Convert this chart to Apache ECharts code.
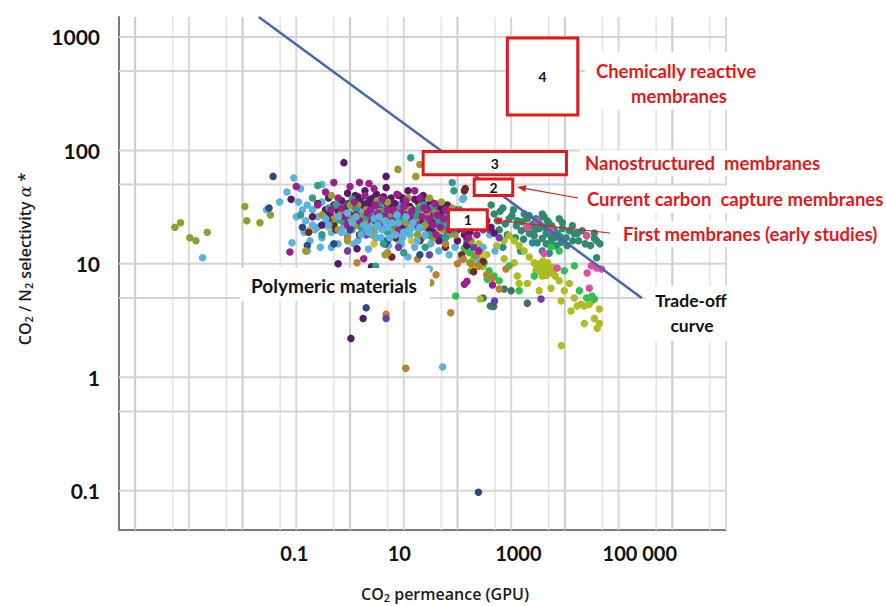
<!DOCTYPE html>
<html><head><meta charset="utf-8">
<script src="https://cdn.jsdelivr.net/npm/echarts@6/dist/echarts.min.js"></script>
<style>html,body{margin:0;padding:0;background:#fff;overflow:hidden}#c{width:886px;height:606px}</style>
</head><body><div id="c"></div>
<script>
// ---------- axes / ticks ----------
const xMin = 5e-5, xMax = 1e7, yMin = 0.045, yMax = 1500;
const xTicks = [0.1, 10, 1000, 100000];
const xTickLabels = ['0.1', '10', '1000', '100 000'];
const yTicks = [1000, 100, 10, 1, 0.1];
const yTickLabels = ['1000', '100', '10', '1', '0.1'];
const xGrid = [1e-4,5e-4,1e-3,5e-3,0.01,0.05,0.1,0.5,1,5,10,50,100,500,1000,5000,1e4,5e4,1e5,5e5,1e6,5e6,1e7];
const yGrid = [0.1,0.5,1,5,10,50,100,500,1000];

// ---------- trade-off curve ----------
const tradeOff = [[0.02, 1500], [270000, 5]];

// ---------- target boxes: [xLow, xHigh, yLow, yHigh, label] ----------
const boxes = [
  [68, 360, 20, 30, '1'],
  [205, 1070, 40, 56, '2'],
  [23, 10700, 61, 98, '3'],
  [850, 17400, 205, 980, '4']
];

// ---------- data points by colour group ----------
const oliveLeft = [[0.00055,21],[0.0007,23],[0.00104,17],[0.00135,16],[0.0022,19],[0.011,32],[0.012,24],[0.021,23],[0.033,27]];

const rightTeal = [[424,33],[482,27.5],[620,29],[780,22.5],[918,25],[1030,26.6],[1250,21.7],[1300,24],[1540,19.6],[1750,27.5],[1900,20.5],[2170,26.6],[2380,21.7],[2690,17.7],[2900,25],[3050,15.3],[3330,20.5],[3800,27.5],[3800,16.8],[4500,18.5],[4500,15],[4700,24],[5500,15.3],[5700,21.7],[5700,16.8],[6900,14.4],[7200,18.5],[7860,25],[9000,23],[9000,20.5],[12100,19.6],[13800,21.7],[15000,18.5],[17000,18.5],[21000,19.6],[25500,17.7],[35400,16.8],[39000,16],[35400,18.7],[39000,11.3],[560,24],[700,31],[1100,30],[1600,23.5],[2000,25],[2600,22.5],[3200,24.5],[4100,26],[5000,23],[6300,20],[8000,17.5],[10500,17],
 [600,20],[850,18],[1200,17],[1700,16.5],[2200,18.5],[2800,20],[3500,22],[4200,21],[5200,18],[6500,17],[8500,15.5],[11000,14.5],[14000,16],[18000,16],[24000,15],[30000,14.5],[45000,15]];
const tealBlue = [[3800,13],[5100,12.4],[2500,15.3],[1500,13],[700,14]];
const darkTeal = [[740,6],[1000,5.8],[2000,4.5],[410,4.25],[470,4.2],[300,5]];
const pink = [[3050,24],[25500,17.7],[31000,9.6],[39000,9.2],[48000,9],[28500,6.1],[4100,12.3],[7200,9.2],[26000,8.3],[2000,21],[5500,20]];
const yellowGreen = [[540,14.4],[740,16],[918,17.7],[1140,16],[1410,14.4],[1750,13],[2170,11.5],[2690,10.2],[2900,8.7],[3330,10],[3800,7.8],[4130,9.6],[4700,8.3],[5120,9.1],[5700,8.7],[6600,7.8],[740,11.1],[1140,10.2],[1300,7.8],[1410,6.7],[2000,6.7],[3330,5.8],[5500,6.1],[7860,7.1],[9750,5.8],[12100,6.7],[15000,5],[17000,4.25],[20000,4.4],[23000,4.25],[28500,4.4],[32000,4.7],[35400,3.3],[43800,4],[43800,2.97],[40000,2.7],[23000,2.97],[13000,3.84],[8500,4.7],[8600,1.9],[265,4.9],[150,13],[200,11],[250,15],[300,9.5],[350,12],[4400,9.8],[4900,8.9],[3600,9.2],[6100,8.2],
 [3000,9.5],[3500,8.5],[4000,9],[4500,7.9],[5300,8.4],[6000,9.3],[4800,10.2],[3900,10.6]];
const green = [[135,13.7],[170,12.5],[210,11.8],[253,11.1],[170,10.2],[235,9.6],[315,10.2],[389,8.7],[180,8.7],[482,7.8],[360,7.3],[597,7.1],[918,9.6],[1410,5.8],[2690,7.8],[32000,5.2],[35400,4.9],[25500,5],[18600,5.8],[7860,13],[5500,14],[93,5.2],[9750,8.7],[15000,9.6]];

const olive = [[0.3,27],[0.6,20],[1,33],[1.6,26],[2.5,20],[3.5,29],[5,35],[6.5,22],[8,30],[10,25],[12,38],[15,28],[20,32],[25,22],[30,38],[40,28],[50,35],[65,26],[80,31],[120,27],[0.15,13],[0.45,40],[4.5,12],[7.8,68],[20,75],[16.8,59],[1.3,22],[3,17],[9,19],[18,18],[35,17],[2,30],[0.9,16],
 [0.7,28],[1.1,25],[1.9,23],[2.8,27],[4,24],[5.5,26],[7,20],[9.5,27],[11,23],[13,30],[17,24],[22,21],[28,26],[33,31],[45,23],[55,20],[70,18],[0.5,25],[1.4,33],[3.2,36],
 [60,22],[90,18],[100,25],[140,21],[180,16]];
const yellow = [[0.4,21],[1.2,29],[3.8,25],[6,31],[11,21],[22,27],[45,19],[90,22],[14,16],[0.18,20],[2.8,15],[200,9],[300,12]];
const teal = [[0.2,38],[0.4,31],[0.7,24],[1.1,37],[1.6,21],[2.5,27],[3.5,34],[5,19],[7,26],[9,31],[12,20],[17,27],[23,33],[30,18],[45,23],[60,17],[85,20],[0.25,49],[13.5,86],[36,32],[110,30],[160,22],[80,52],[86,44],[0.12,27],[0.3,18],[4.2,15],[25,14],[3,9.5],[10,12.5],
 [0.55,33],[1.3,30],[2,26],[4.5,30],[6,22],[8.5,25],[14,24],[19,30],[27,25],[40,26],[55,22],[70,27]];
const brown = [[0.17,19],[0.5,22],[1.5,18],[3,24],[4.5,15],[7,17],[10,22],[20,16],[35,19],[60,14],[150,17],[6,11.5],[120,12],[135,44],[140,46],[2.2,33],[15,29],[300,10.5],[200,8.5]];
const orange = [[10.9,1.2],[4.7,3.6],[75,3.7],[32,6.8],[1.35,10.2],[40,8],[100,10],[180,10],[250,9.5],[350,8],[220,12],[130,11],[5,12.5],[18,11],[0.9,17],[60,15],[450,7.5],[600,6],[800,9]];
const violet = [[4.7,3.3],[2,18],[8,14],[30,12],[50,17],[150,15],[400,20],[250,26],[0.9,13],[490,4.7],[3600,4.9],[200,14],[300,20],[600,17],[1,21],[12,26]];
const navy = [[0.037,59],[0.031,31],[0.13,21],[0.16,14.5],[2,4.1],[246,0.097],[1,20],[5,16],[20,12],[60,30],[0.5,15],[3,26]];
const lightBlue = [[0.0018,11.3],[0.028,30],[0.049,35],[0.067,43],[0.09,57],[0.083,15.3],[0.12,46],[0.16,33],[0.16,13],[0.3,50],
 [0.15,24],[0.2,30],[0.22,20],[0.25,26],[0.3,35],[0.3,17],[0.35,22],[0.4,28],[0.45,19],[0.5,32],[0.55,24],[0.6,15],[0.7,27],[0.75,21],[0.8,34],[0.9,18],[1,25],[1,30],[1.2,22],[1.3,28],[1.4,16],[1.5,32],[1.7,20],[1.8,26],[2,23],[2,35],[2.3,29],[2.5,18],[2.7,24],[3,31],[3,21],[3.4,27],[3.8,17],[4,24],[4.2,33],[4.6,20],[5,28],[5.5,23],[6,18],[6,32],[6.5,26],[7,21],[7.5,29],[8,16],[8.5,24],[9,34],[10,20],[10,27],[11,23],[12,30],[13,18],[14,25],[15,21],[16,14],[18,28],[20,22],[22,17],[25,26],[28,20],[32,15],[35,24],[40,19],[45,13],[55,16],[70,12],[90,14],[120,11],[0.45,14],[2.2,13.5],[5.2,14.5],[53,1.23],[30,9],[12,11.5],[130,38],[125,37],[150,16],[200,22],[300,14],[250,11],[400,18],[500,13],
 [0.25,21],[0.35,27],[0.5,22],[0.65,30],[0.85,24],[1.1,20],[1.15,27],[1.35,24],[1.6,29],[1.9,22],[2.2,26],[2.6,31],[2.9,19],[3.2,25],[3.6,22],[3.9,29],[4.4,26],[4.8,22],[5.3,30],[5.8,25],[6.3,21],[6.8,28],[7.3,24],[7.8,32],[8.3,20],[9,26],[9.6,23],[10.5,29],[11.5,19],[12.5,25],[13.5,22],[15,27],[16.5,24],[19,20],[21,26],[24,23],[27,18],[30,21],[34,17],[38,22],[0.18,16],[0.28,14],[1.2,15],[4.5,16],[9,15],[0.1,26],[0.11,35],[0.13,30],[0.14,19]];
const magenta = [[0.1,48],[0.076,12.7],[0.25,33],[0.4,24],[0.5,52],[0.6,38],[0.8,26],[1,48],[1.2,35],[1.5,24],[1.9,40],[2.4,30],[2.8,46],[3.5,22],[4,37],[5,30],[6,24],[7.5,41],[9,28],[11,36],[13,26],[16,44],[18,22],[24,31],[30,25],[38,34],[48,21],[60,30],[75,24],[95,28],[130,20],[170,25],[230,18],[1.8,11.1],[0.35,43],[0.7,31],[2.1,28],[3,33],[8,20],[20,38],[250,13],[150,7],[450,6.5],[135,6.6],[1.5,52],[2.26,51],
 [0.45,30],[0.9,22],[1.3,27],[2.6,25],[3.3,28],[4.5,26],[6.5,30],[10,32],[14,29],[22,26],[28,30],[35,22],[42,27],[55,25],[85,23],
 [40,18],[70,20],[110,27],[160,17],[200,21]];
const darkPurple = [[0.2,26],[0.25,34],[0.3,22],[0.35,30],[0.4,38],[0.45,26],[0.5,33],[0.55,20],[0.6,29],[0.7,36],[0.75,24],[0.8,31],[0.9,42],[1,27],[1.1,35],[1.2,22],[1.3,31],[1.4,39],[1.6,26],[1.7,33],[1.9,44],[2,23],[2.2,30],[2.4,37],[2.6,27],[2.9,33],[3.1,41],[3.3,24],[3.6,30],[4,36],[4.3,27],[4.7,47],[5,32],[5.4,23],[5.8,38],[6.2,29],[6.8,34],[7.3,25],[8,40],[8.6,30],[9.3,22],[10,36],[11,27],[12,44],[13,32],[14,25],[16,37],[17,29],[19,34],[21,24],[23,40],[26,30],[29,22],[32,35],[36,27],[40,32],[45,24],[50,29],[56,21],[62,26],[70,31],[78,23],[88,27],[100,20],[115,25],[135,18],[160,22],[0.08,37],[1.04,2.2],[1.75,3.3],[0.6,10],[2.5,9.4],[1.35,13.6],[0.77,78],[4.7,59],[482,18.7],[350,24],[420,21],
 [0.42,28],[0.65,25],[0.95,34],[1.25,40],[1.55,36],[2.1,34],[2.7,38],[3.4,35],[4.2,39],[5.2,36],[6,33],[7,30],[8.3,27],[9.7,38],[11.5,24],[14.5,30],[18,27],[22,36],[28,33],[34,24],[43,27],[53,25],[66,24],[85,21],[110,22],
 [30,20],[35,34],[42,29],[47,22],[52,31],[60,24],[65,33],[72,27],[80,22],[90,30],[105,25],[120,21],[140,26],[170,19],[190,23],[65,18],[100,16],[150,14.5],[45,16]];
const lightBlueTop = [[0.4,22],[0.7,19],[1.1,23],[1.6,18],[2.3,21],[3.1,17],[4,20],[5.5,17],[7,18],[9.5,17],[13,20],[18,16],[25,18],[0.6,26],[2.8,25],[6,23],[15,23],[0.2,22],[1.3,26],[4.5,24],
 [0.9,28],[1.8,22],[3.5,26],[5,21],[8,23],[11,26],[20,21],[0.35,25],[2.2,19],[7.5,27],[10,19],[3.3,22]];

const groups = [
  ['rightTeal', rightTeal, '#2f8a6f'],
  ['tealBlue', tealBlue, '#2a86a0'],
  ['darkTeal', darkTeal, '#3e7265'],
  ['yellowGreen', yellowGreen, '#adbd22'],
  ['green', green, '#2ec24e'],
  ['pink', pink, '#e24d9f'],
  ['oliveLeft', oliveLeft, '#86a52f'],
  ['lightBlue', lightBlue, '#5cb2de'],
  ['yellow', yellow, '#d2bf35'],
  ['brown', brown, '#6e2a24'],
  ['orange', orange, '#b9822e'],
  ['violet', violet, '#6a3fae'],
  ['navy', navy, '#2d4b8a'],
  ['darkPurple', darkPurple, '#561a66'],
  ['olive', olive, '#9c9a2e'],
  ['teal', teal, '#2f9c8e'],
  ['magenta', magenta, '#9b1f8c'],
  ['lightBlueTop', lightBlueTop, '#5cb2de']
];

const RED = '#e2191b';
const chart = echarts.init(document.getElementById('c'), null, {renderer: 'svg', width: 886, height: 606});

const series = [];
series.push({
  type: 'custom', name: 'vgrid', z: 1, silent: true,
  data: xGrid.map(v => [v, 1]),
  renderItem: (params, api) => {
    const v = api.value(0); const p = api.coord([v, 1]); const cs = params.coordSys;
    const e = Math.log10(v); const isDec = Math.abs(e - Math.round(e)) < 1e-6;
    const even = isDec && Math.round(e) % 2 === 0;
    return {type: 'line', shape: {x1: p[0], y1: cs.y, x2: p[0], y2: cs.y + cs.height},
      style: {stroke: even ? '#cbcbcb' : (isDec ? '#d8d8d8' : '#e4e4e4'), lineWidth: isDec ? 2 : 1.5}};
  }
});
series.push({
  type: 'custom', name: 'hgrid', z: 1, silent: true,
  data: yGrid.map(v => [1, v]),
  renderItem: (params, api) => {
    const v = api.value(1); const p = api.coord([1, v]); const cs = params.coordSys;
    return {type: 'line', shape: {x1: cs.x, y1: p[1], x2: cs.x + cs.width, y2: p[1]},
      style: {stroke: '#d4d4d4', lineWidth: 2}};
  }
});
groups.forEach(g => series.push({
  type: 'scatter', name: g[0], data: g[1], symbolSize: 7.5, z: 2,
  itemStyle: {color: g[2], opacity: 1}, silent: true
}));
series.push({
  type: 'line', name: 'Trade-off', data: tradeOff, symbol: 'none', z: 4, silent: true,
  lineStyle: {color: '#4565b5', width: 2.5}
});
series.push({
  type: 'custom', name: 'boxes', z: 6, silent: true,
  data: boxes.map(b => ({value: [b[0], b[2], b[1], b[3]], name: b[4]})),
  encode: {x: [0, 2], y: [1, 3]},
  renderItem: (params, api) => {
    const p0 = api.coord([api.value(0), api.value(3)]);
    const p1 = api.coord([api.value(2), api.value(1)]);
    const lbl = boxes[params.dataIndex][4];
    return {type: 'rect', shape: {x: p0[0], y: p0[1], width: p1[0] - p0[0], height: p1[1] - p0[1]},
      style: {fill: '#ffffff', stroke: RED, lineWidth: 3},
      textContent: {style: {text: lbl, font: 'bold 14px Lato', fill: '#111'}},
      textConfig: {position: 'inside'}};
  }
});

chart.setOption({
  animation: false,
  backgroundColor: '#ffffff',
  grid: {left: 119, top: 17, right: 160, bottom: 76, containLabel: false, outerBoundsMode: 'none'},
  xAxis: {type: 'log', logBase: 10, min: xMin, max: xMax,
    axisLine: {show: true, onZero: false, lineStyle: {color: '#7a7a7a', width: 2}},
    axisTick: {show: false}, axisLabel: {show: false}, splitLine: {show: false}},
  yAxis: {type: 'log', logBase: 10, min: yMin, max: yMax,
    axisLine: {show: true, onZero: false, lineStyle: {color: '#7a7a7a', width: 2}},
    axisTick: {show: false}, axisLabel: {show: false}, splitLine: {show: false}},
  series: series
});

// ---------- tick labels, titles & annotations ----------
const els = [];
xTicks.forEach((v, i) => {
  const p = chart.convertToPixel({gridIndex: 0}, [v, yMin]);
  els.push({type: 'text', z: 100, x: p[0] - 16, y: p[1] + 23,
    style: {text: xTickLabels[i], font: 'bold 20px Lato', fill: '#111', textAlign: 'left', textVerticalAlign: 'middle'}});
});
yTicks.forEach((v, i) => {
  const p = chart.convertToPixel({gridIndex: 0}, [xMin, v]);
  els.push({type: 'text', z: 100, x: 100, y: p[1],
    style: {text: yTickLabels[i], font: 'bold 21px Lato', fill: '#111', textAlign: 'right', textVerticalAlign: 'middle'}});
});
const rich = {
  a: {fontFamily: 'Open Sans', fontWeight: 600, fontSize: 16, fill: '#1a1a1a', lineHeight: 18},
  s: {fontFamily: 'Open Sans', fontWeight: 600, fontSize: 11, fill: '#1a1a1a', lineHeight: 10, verticalAlign: 'bottom'},
  g: {fontFamily: 'DejaVu Serif', fontStyle: 'italic', fontSize: 17, fill: '#1a1a1a', lineHeight: 18},
  p: {fontFamily: 'Open Sans', fontWeight: 600, fontSize: 16, fill: '#1a1a1a', lineHeight: 12, verticalAlign: 'top'}
};
els.push({type: 'text', z: 100, x: 445, y: 594,
  style: {text: '{a|CO}{s|2}{a| permeance (GPU)}', rich: rich, textAlign: 'center', textVerticalAlign: 'middle'}});
els.push({type: 'text', z: 100, x: 25, y: 259, rotation: Math.PI / 2,
  style: {text: '{a|CO}{s|2}{a| / N}{s|2}{a| selectivity }{g|α}{p| *}', rich: rich, textAlign: 'center', textVerticalAlign: 'middle'}});

function wbox(x, y, w, h) { els.push({type: 'rect', z: 90, shape: {x: x, y: y, width: w, height: h}, style: {fill: '#fff'}}); }
function txt(t, x, y, color, font, align) {
  els.push({type: 'text', z: 100, x: x, y: y, style: {text: t, fill: color, font: font, textAlign: align || 'left', textVerticalAlign: 'middle'}});
}
function arrow(x1, y1, x2, y2) {
  const dx = x2 - x1, dy = y2 - y1, L = Math.hypot(dx, dy), ux = dx / L, uy = dy / L;
  const bx = x2 - ux * 9, by = y2 - uy * 9, px = -uy * 3.5, py = ux * 3.5;
  els.push({type: 'line', z: 95, shape: {x1: x1, y1: y1, x2: bx, y2: by}, style: {stroke: RED, lineWidth: 1.2}});
  els.push({type: 'polygon', z: 95, shape: {points: [[x2, y2], [bx + px, by + py], [bx - px, by - py]]}, style: {fill: RED}});
}
const redFont = 'bold 18.5px Lato';
wbox(585, 52, 180, 58);
wbox(580, 150, 250, 26);
wbox(582, 186, 304, 27);
wbox(616, 221, 270, 26);
wbox(240, 268, 190, 33);
wbox(645, 286, 95, 55);
txt('Chemically reactive', 676, 71, RED, redFont, 'center');
txt('membranes', 679, 96, RED, redFont, 'center');
txt('Nanostructured  membranes', 585, 163, RED, redFont);
txt('Current carbon  capture membranes', 587, 199, RED, redFont);
txt('First membranes (early studies)', 623, 234, RED, redFont);
txt('Polymeric materials', 334, 285, '#111', 'bold 19px Lato', 'center');
txt('Trade-off', 691, 300, '#111', 'bold 17.5px Lato', 'center');
txt('curve', 692, 325, '#111', 'bold 17.5px Lato', 'center');
arrow(578, 198, 517, 187);
arrow(610, 233, 493, 220);
chart.setOption({graphic: els});
</script>
</body></html>
